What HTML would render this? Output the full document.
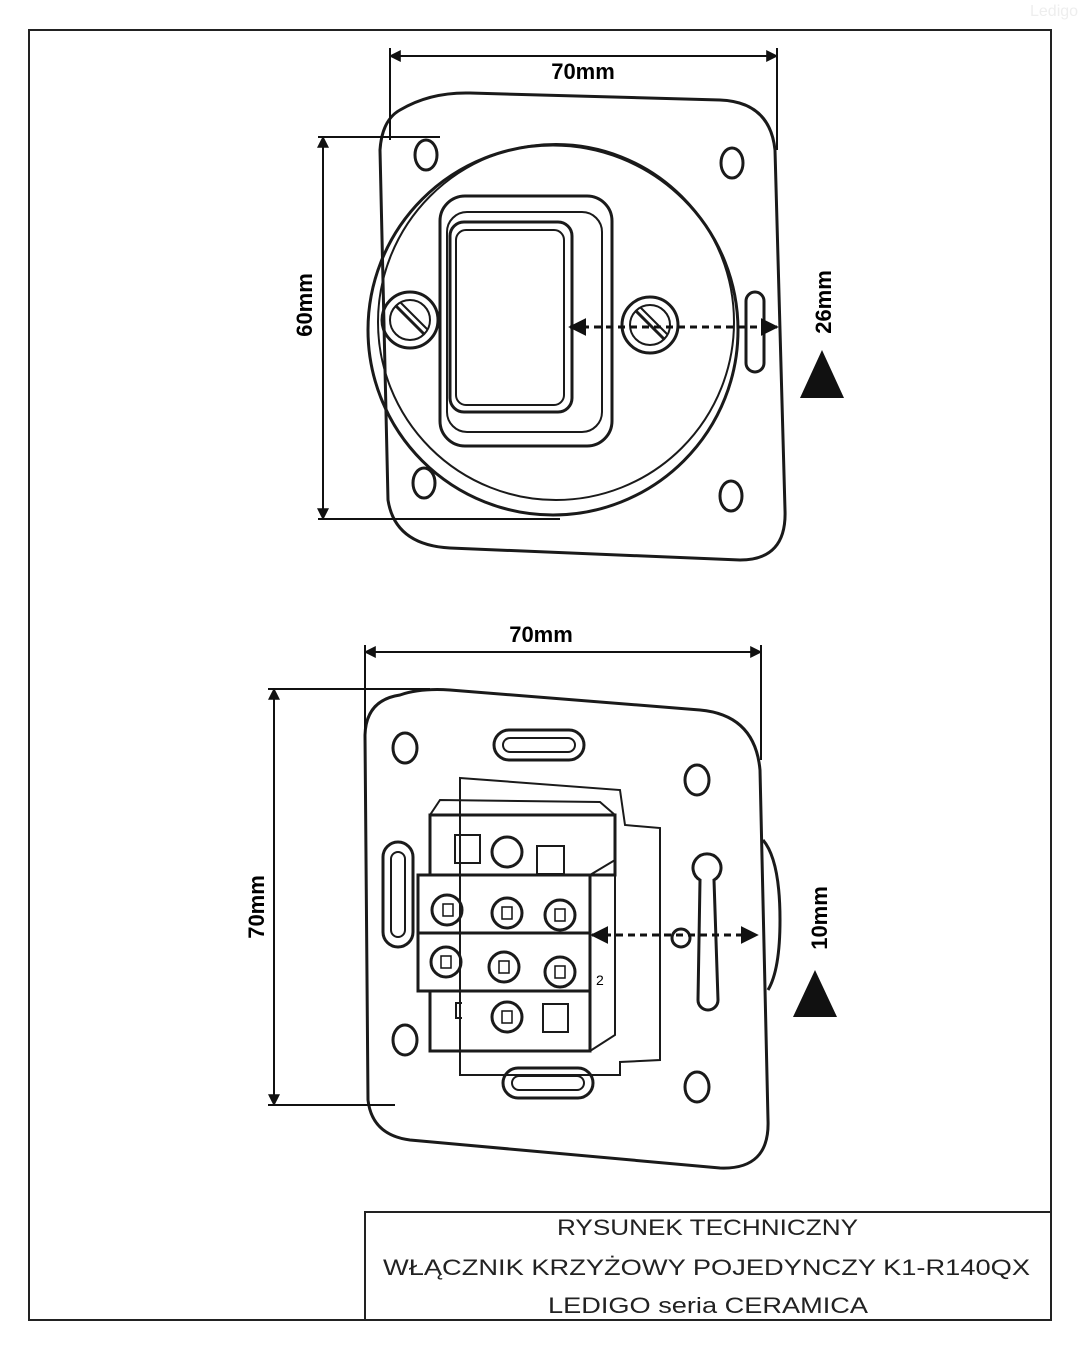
<!DOCTYPE html>
<html><head><meta charset="utf-8"><style>
body{margin:0;background:#fff}
svg{display:block}
text{font-family:"Liberation Sans",sans-serif}
</style></head><body>
<svg width="1080" height="1350" viewBox="0 0 1080 1350" xmlns="http://www.w3.org/2000/svg">
<defs>
<marker id="ah" viewBox="0 0 10 10" refX="9" refY="5" markerWidth="6" markerHeight="6" orient="auto-start-reverse"><path d="M0,0 L10,5 L0,10 z" fill="#111"/></marker>
</defs>
<rect x="29" y="30" width="1022" height="1290" fill="none" stroke="#222" stroke-width="2"/>
<text x="1030" y="16" font-size="16" fill="#eee">Ledigo</text>
<!-- top drawing -->
<g fill="none" stroke="#1a1a1a" stroke-width="3">
<path d="M400,110 Q430,92 470,93 L720,100 Q770,102 775,150 L785,510 Q787,560 740,560 L450,548 Q395,545 388,500 L380,150 Q382,120 400,110 Z"/>
<circle cx="553" cy="330" r="185"/>
<circle cx="556" cy="322" r="178" stroke-width="2"/>
<rect x="440" y="196" width="172" height="250" rx="25"/>
<rect x="447" y="212" width="155" height="220" rx="20" stroke-width="2"/>
<rect x="450" y="222" width="122" height="190" rx="14"/>
<rect x="456" y="230" width="108" height="175" rx="10" stroke-width="2"/>
<circle cx="410" cy="320" r="28"/><circle cx="410" cy="320" r="20" stroke-width="2"/>
<line x1="396" y1="306" x2="424" y2="334" stroke-width="3"/><line x1="400" y1="302" x2="428" y2="330" stroke-width="2"/>
<circle cx="650" cy="325" r="28"/><circle cx="650" cy="325" r="20" stroke-width="2"/>
<line x1="636" y1="311" x2="664" y2="339" stroke-width="3"/><line x1="640" y1="307" x2="668" y2="335" stroke-width="2"/>
<ellipse cx="426" cy="155" rx="11" ry="15"/><ellipse cx="732" cy="163" rx="11" ry="15"/>
<ellipse cx="424" cy="483" rx="11" ry="15"/><ellipse cx="731" cy="496" rx="11" ry="15"/>
<rect x="746" y="292" width="18" height="80" rx="9"/>
</g>
<g stroke="#111" stroke-width="2" fill="none">
<line x1="390" y1="48" x2="390" y2="140"/><line x1="777" y1="48" x2="777" y2="150"/>
<line x1="390" y1="56" x2="777" y2="56" marker-start="url(#ah)" marker-end="url(#ah)"/>
<line x1="318" y1="137" x2="440" y2="137"/><line x1="318" y1="519" x2="560" y2="519"/>
<line x1="323" y1="137" x2="323" y2="519" marker-start="url(#ah)" marker-end="url(#ah)"/>
<line x1="570" y1="327" x2="777" y2="327" stroke-width="3" stroke-dasharray="7,5" marker-start="url(#ah)" marker-end="url(#ah)"/>
</g>
<text x="583" y="79" font-size="22" font-weight="bold" text-anchor="middle">70mm</text>
<text transform="translate(312,305) rotate(-90)" font-size="22" font-weight="bold" text-anchor="middle">60mm</text>
<text transform="translate(831,302) rotate(-90)" font-size="22" font-weight="bold" text-anchor="middle">26mm</text>
<polygon points="822,350 800,398 844,398" fill="#111"/>
<!-- bottom drawing -->
<g fill="none" stroke="#1a1a1a" stroke-width="3">
<path d="M400,695 Q420,688 450,690 L700,710 Q755,715 760,770 L768,1120 Q770,1170 720,1168 L410,1140 Q372,1135 368,1100 L365,735 Q366,700 400,695 Z"/>
<path d="M763,840 Q780,860 780,920 Q780,970 768,990" />
<ellipse cx="405" cy="748" rx="12" ry="15"/><ellipse cx="697" cy="780" rx="12" ry="15"/>
<ellipse cx="405" cy="1040" rx="12" ry="15"/><ellipse cx="697" cy="1087" rx="12" ry="15"/>
<rect x="494" y="730" width="90" height="30" rx="15"/><rect x="503" y="738" width="72" height="14" rx="7" stroke-width="2"/>
<rect x="503" y="1068" width="90" height="30" rx="15"/><rect x="512" y="1076" width="72" height="14" rx="7" stroke-width="2"/>
<rect x="383" y="842" width="30" height="105" rx="15"/><rect x="391" y="852" width="14" height="85" rx="7" stroke-width="2"/>
<path d="M700,880 a14,14 0 1,1 14,0 L718,1000 a10,10 0 0,1 -20,0 Z"/>
<circle cx="681" cy="938" r="9"/>
<path d="M460,778 L620,790 L625,825 L660,828 L660,1060 L620,1062 L620,1075 L460,1075 L460,1050 Z" stroke-width="2"/>
<rect x="430" y="815" width="185" height="60"/>
<path d="M430,815 L440,800 L600,802 L615,815" stroke-width="2"/>
<rect x="418" y="875" width="172" height="58"/>
<rect x="418" y="933" width="172" height="58"/>
<rect x="430" y="991" width="160" height="60"/>
<path d="M590,875 L615,860 L615,1035 L590,1051" stroke-width="2"/>
<rect x="455" y="835" width="25" height="28" stroke-width="2"/>
<circle cx="507" cy="852" r="15"/>
<rect x="537" y="846" width="27" height="28" stroke-width="2"/>
<circle cx="447" cy="910" r="15"/><circle cx="507" cy="913" r="15"/><circle cx="560" cy="915" r="15"/>
<circle cx="446" cy="962" r="15"/><circle cx="504" cy="967" r="15"/><circle cx="560" cy="972" r="15"/>
<circle cx="507" cy="1017" r="15"/>
<rect x="543" y="1004" width="25" height="28" stroke-width="2"/>
<path d="M462,1003 L456,1003 L456,1018 L462,1018" stroke-width="2"/>
</g>
<g fill="none" stroke="#111" stroke-width="1.5">
<rect x="443" y="904" width="10" height="12"/><rect x="502" y="907" width="10" height="12"/><rect x="555" y="909" width="10" height="12"/>
<rect x="441" y="956" width="10" height="12"/><rect x="499" y="961" width="10" height="12"/><rect x="555" y="966" width="10" height="12"/>
<rect x="502" y="1011" width="10" height="12"/>
</g>
<text x="596" y="985" font-size="14" font-family="Liberation Serif">2</text>
<g stroke="#111" stroke-width="2" fill="none">
<line x1="365" y1="645" x2="365" y2="740"/><line x1="761" y1="645" x2="761" y2="760"/>
<line x1="365" y1="652" x2="761" y2="652" marker-start="url(#ah)" marker-end="url(#ah)"/>
<line x1="268" y1="689" x2="430" y2="689"/><line x1="268" y1="1105" x2="395" y2="1105"/>
<line x1="274" y1="689" x2="274" y2="1105" marker-start="url(#ah)" marker-end="url(#ah)"/>
<line x1="592" y1="935" x2="757" y2="935" stroke-width="3" stroke-dasharray="7,5" marker-start="url(#ah)" marker-end="url(#ah)"/>
</g>
<text x="541" y="642" font-size="22" font-weight="bold" text-anchor="middle">70mm</text>
<text transform="translate(264,907) rotate(-90)" font-size="22" font-weight="bold" text-anchor="middle">70mm</text>
<text transform="translate(827,918) rotate(-90)" font-size="22" font-weight="bold" text-anchor="middle">10mm</text>
<polygon points="815,970 793,1017 837,1017" fill="#111"/>
<!-- title block -->
<rect x="365" y="1212" width="686" height="108" fill="none" stroke="#222" stroke-width="2"/>
<text x="557" y="1235" font-size="22" textLength="301" lengthAdjust="spacingAndGlyphs" fill="#222">RYSUNEK TECHNICZNY</text>
<text x="383" y="1275" font-size="22" textLength="647" lengthAdjust="spacingAndGlyphs" fill="#222">WŁĄCZNIK KRZYŻOWY POJEDYNCZY K1-R140QX</text>
<text x="548" y="1313" font-size="22" textLength="320" lengthAdjust="spacingAndGlyphs" fill="#222">LEDIGO seria CERAMICA</text>
</svg>
</body></html>
